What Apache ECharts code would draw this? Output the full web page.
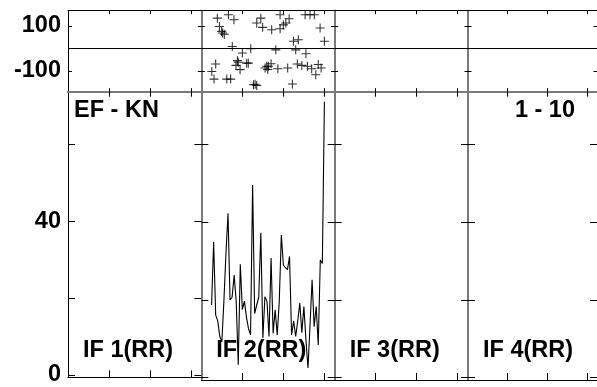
<!DOCTYPE html>
<html><head><meta charset="utf-8">
<script src="https://cdn.jsdelivr.net/npm/echarts@6/dist/echarts.min.js"></script>
<style>html,body{margin:0;padding:0;background:#fff}#c{width:597px;height:387px}</style>
</head><body><div id="c"></div>
<script>
const panelLabels = ['IF 1(RR)', 'IF 2(RR)', 'IF 3(RR)', 'IF 4(RR)'];
const baselineLabel = 'EF - KN';
const timeLabel = '1 - 10';
const channelTicks = [20, 40, 60];
const phaseTicks = [-100, 100];
const ampTicks = [0, 20, 40, 60];
const ampLabelTicks = [0, 40];

const ampChannelsIF2 = [5,6,7,8,9,10,11,12,13,14,15,16,17,18,19,20,21,22,23,24,25,26,27,28,29,30,31,32,33,34,35,36,37,38,39,40,41,42,43,44,45,46,47,48,49,50,51,52,53,54,55,56,57,58,59,60];
const ampIF2 = [18.7,34.9,16.1,14.6,10.6,9.2,19.7,31.9,42.3,20,20.7,26.4,19.6,3.3,29.2,17.5,19.7,15.6,12.6,11,49.6,16.5,18.7,20.7,37.3,10.2,20.8,19.7,10.6,30.8,11.4,17.5,11,19.7,36.7,29,28.3,27.8,31.2,11,14.6,10.6,14.6,19.2,11.6,18.3,9.6,2.5,13.6,25.2,13.1,18.3,8.4,30.3,29.4,71];

const phaseChIF2 = [7.8,13.2,15.9,8.8,10.4,9.9,29.0,27.0,29.9,15.1,20.0,24.1,7.0,5.1,6.2,12.4,14.3,17.6,16.9,18.9,22.1,22.9,25.4,27.0,31.1,32.7,38.4,42.8,50.6,53.0,55.1,34.3,38.4,40.0,41.2,57.9,44.9,47.3,60.0,36.3,46.0,51.0,31.9,34.0,37.3,42.1,46.8,49.0,51.7,53.8,55.8,58.4,44.4,26.2,18.0,11.2,57.0,32.4];
const phaseIF2 = [134,149,127,97,68,75,134,112,93,8,-21,-2,-70,-103,-137,-137,-137,-55,-76,-95,-66,-66,-162,-165,-88,-80,149,131,149,149,149,82,87,104,112,90,31,38,31,-7,-7,-24,-80,-69,-91,-88,-70,-76,-80,-91,-118,-88,-159,-160,-62,62,-72,-94];

const ampData = [[], ampChannelsIF2.map((c, i) => [c, ampIF2[i]]), [], []];
const phaseData = [[], phaseChIF2.map((c, i) => [c, phaseIF2[i]]), [], []];

const FONT = '"Liberation Sans", Arial, sans-serif';
const FS = 23.5;
const colLeft = [68, 201.33, 334.67, 468];
const colW = 133.33;
const topY = 10.7, midY = 91.7, botY = 380;
const GRAY = '#7a7a7a';

const grid = [], xAxis = [], yAxis = [], series = [], graphic = [];

function xAx(g, pos, color, width, tickLen) {
  return {
    type: 'value', gridIndex: g, position: pos, min: 0, max: 65,
    axisLine: { show: true, onZero: false, lineStyle: { color: color, width: width } },
    axisTick: { show: true, inside: true, length: tickLen, customValues: channelTicks, lineStyle: { color: '#000', width: 1 } },
    axisLabel: { show: false }, splitLine: { show: false }
  };
}
function yAx(g, pos, range, ticks, tickLen, lineShow, color, width, labels) {
  return {
    type: 'value', gridIndex: g, position: pos, min: range[0], max: range[1],
    axisLine: { show: lineShow, onZero: false, lineStyle: { color: color, width: width } },
    axisTick: { show: true, inside: true, length: tickLen, customValues: ticks, lineStyle: { color: '#000', width: 1 } },
    axisLabel: labels ? { show: true, customValues: labels, margin: 7, color: '#000', fontFamily: FONT, fontWeight: 'bold', fontSize: FS } : { show: false },
    splitLine: { show: false }
  };
}

for (let i = 0; i < 4; i++) {
  grid[i] = { left: colLeft[i], top: topY, width: colW, height: midY - topY };
  grid[4 + i] = { left: colLeft[i], top: midY, width: colW, height: botY - midY };
}
for (let g = 0; g < 8; g++) {
  const i = g % 4, isTop = g < 4;
  if (isTop) {
    xAxis[2 * g] = xAx(g, 'bottom', GRAY, 2, 3.5);
    xAxis[2 * g + 1] = xAx(g, 'top', '#000', 1, 3.5);
    yAxis[2 * g] = yAx(g, 'left', [-193, 167], phaseTicks, i === 0 ? 4 : 3.5, true, i === 0 ? '#000' : GRAY, i === 0 ? 1 : 2, i === 0 ? phaseTicks : null);
    yAxis[2 * g + 1] = yAx(g, 'right', [-193, 167], phaseTicks, 3.5, false, GRAY, 2, null);
    series.push({
      type: 'scatter', xAxisIndex: 2 * g, yAxisIndex: 2 * g, data: phaseData[i],
      symbol: 'path://M4.4,0H5.6V10H4.4ZM0,4.4H10V5.6H0Z', symbolSize: 9,
      itemStyle: { color: '#000' }, silent: true,
      markLine: { silent: true, symbol: ['none', 'none'], label: { show: false }, animation: false,
        lineStyle: { color: '#000', width: 1, type: 'solid' }, data: [{ yAxis: 0 }] }
    });
  } else {
    xAxis[2 * g] = xAx(g, 'bottom', '#000', 1, 7);
    xAxis[2 * g + 1] = xAx(g, 'top', GRAY, 2, 5);
    yAxis[2 * g] = yAx(g, 'left', [-0.6, 73.6], ampTicks, 7, true, i === 0 ? '#000' : GRAY, i === 0 ? 1 : 2, i === 0 ? ampLabelTicks : null);
    yAxis[2 * g + 1] = yAx(g, 'right', [-0.6, 73.6], ampTicks, 7, false, GRAY, 2, null);
    series.push({
      type: 'line', xAxisIndex: 2 * g, yAxisIndex: 2 * g, data: ampData[i],
      showSymbol: false, symbol: 'none', lineStyle: { color: '#000', width: 1.1 }, silent: true
    });
    graphic.push({ type: 'text', left: colLeft[i] + 15, top: 339, silent: true,
      style: { text: panelLabels[i], font: 'bold ' + FS + 'px ' + FONT, fill: '#000' } });
  }
}
graphic.push({ type: 'text', left: 74, top: 99, silent: true, style: { text: baselineLabel, font: 'bold ' + FS + 'px ' + FONT, fill: '#000' } });
graphic.push({ type: 'text', right: 22, top: 99, silent: true, style: { text: timeLabel, font: 'bold ' + FS + 'px ' + FONT, fill: '#000' } });

const chart = echarts.init(document.getElementById('c'), null, { renderer: 'canvas' });
chart.setOption({ animation: false, backgroundColor: '#fff', grid, xAxis, yAxis, series, graphic });
</script>
</body></html>
